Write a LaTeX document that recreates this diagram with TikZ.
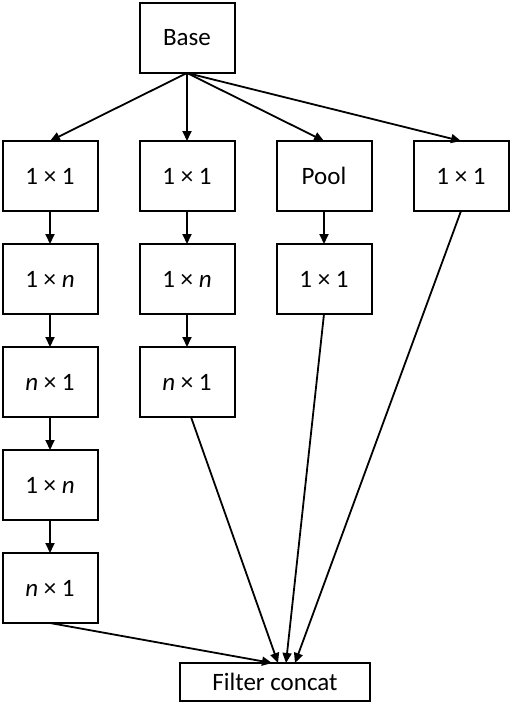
\documentclass[tikz,border=0pt]{standalone}
\usepackage{fontspec}
\setmainfont{Carlito}
\usetikzlibrary{positioning,arrows.meta}

\tikzset{
	layer/.style={draw, line width=2pt, outer sep=0pt, minimum width=95pt, minimum height=70pt,
		font=\fontsize{25}{30}\selectfont},
	flow/.style={-{Triangle[length=10pt,width=9pt]}, line width=1.8pt},
}

\begin{document}
\begin{tikzpicture}
	\useasboundingbox (0,0) rectangle (510pt,-705pt);
	% first branch
	\node[layer] at (50pt,-176pt) (a) {1 × 1};
	\node[layer, below=33pt of a] (b) {1 × \textit{n}};
	\node[layer, below=33pt of b] (c) {\textit{n} × 1};
	\node[layer, below=33pt of c] (d) {1 × \textit{n}};
	\node[layer, below=33pt of d] (e) {\textit{n} × 1};
	% second branch
	\node[layer, right=42pt of a] (f) {1 × 1};
	\node[layer, below=33pt of f] (g) {1 × \textit{n}};
	\node[layer, below=33pt of g] (h) {\textit{n} × 1};
	% pooling and single branch
	\node[layer, right=42pt of f] (i) {Pool};
	\node[layer, below=33pt of i] (l) {1 × 1};
	\node[layer, right=42pt of i] (m) {1 × 1};
	
	\node[layer, above=68pt of f] (base) {Base};
	\node[layer, minimum width=190pt, minimum height=38pt] at (275pt,-682pt) (concat) {Filter concat};
	
	\draw[flow] (base.south) -- (a.north);
	\draw[flow] (base.south) -- (f.north);
	\draw[flow] (base.south) -- (i.north);
	\draw[flow] (base.south) -- (m.north);
	\draw[flow] (a) -- (b);
	\draw[flow] (b) -- (c);
	\draw[flow] (c) -- (d);
	\draw[flow] (d) -- (e);
	\draw[flow] (f) -- (g);
	\draw[flow] (g) -- (h);
	\draw[flow] (i) -- (l);
	\draw[flow] (e.south) -- ([xshift=-3pt]concat.north);
	\draw[flow] ([xshift=4pt]h.south) -- ([xshift=3pt]concat.north);
	\draw[flow] (l.south) -- ([xshift=11pt]concat.north);
	\draw[flow] (m.south) -- ([xshift=20pt]concat.north);
\end{tikzpicture}
\end{document}
